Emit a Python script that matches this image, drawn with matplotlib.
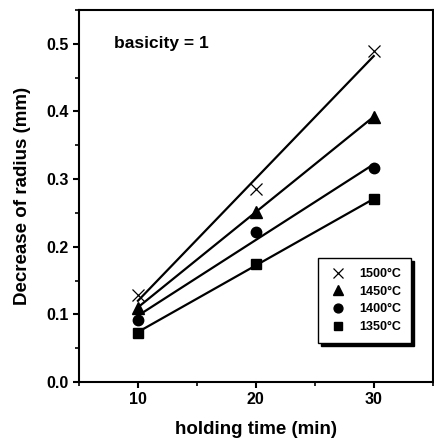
import numpy as np
import matplotlib
matplotlib.use("Agg")
import matplotlib.pyplot as plt
from matplotlib.ticker import MultipleLocator

plt.rcParams['font.family'] = ['Liberation Sans', 'DejaVu Sans']
plt.rcParams['font.weight'] = 'bold'

time = [10, 20, 30]
labels = ['1500°C', '1450°C', '1400°C', '1350°C']
values = {
    '1500°C': [0.128, 0.285, 0.490],
    '1450°C': [0.110, 0.252, 0.392],
    '1400°C': [0.092, 0.222, 0.316],
    '1350°C': [0.073, 0.174, 0.270],
}
markers = {'1500°C': 'x', '1450°C': '^', '1400°C': 'o', '1350°C': 's'}
msizes = {'1500°C': 9, '1450°C': 8, '1400°C': 7.5, '1350°C': 7}

fig = plt.figure(figsize=(4.34, 4.38), dpi=100)
ax = fig.add_axes([0.182, 0.128, 0.815, 0.849])

x = np.array(time)
for lab in labels:
    y = np.array(values[lab])
    m, b = np.polyfit(x, y, 1)
    ax.plot(x, m * x + b, color='black', lw=1.6, zorder=2)
    ax.plot(x, y, linestyle='none', marker=markers[lab], ms=msizes[lab],
            color='black', mew=0.9 if lab == '1500°C' else 1, label=lab, zorder=3)

ax.set_xlim(5, 35)
ax.set_ylim(0, 0.55)
ax.xaxis.set_major_locator(MultipleLocator(10))
ax.xaxis.set_minor_locator(MultipleLocator(5))
ax.yaxis.set_major_locator(MultipleLocator(0.1))
ax.yaxis.set_minor_locator(MultipleLocator(0.05))
ax.yaxis.set_major_formatter(matplotlib.ticker.FormatStrFormatter('%.1f'))
ax.xaxis.set_major_formatter(matplotlib.ticker.FormatStrFormatter('%d'))
ax.tick_params(which='major', direction='out', length=4.5, width=1.5, labelsize=11.5, pad=3)
ax.tick_params(which='minor', direction='out', length=3, width=1.2)
for s in ax.spines.values():
    s.set_linewidth(1.5)

ax.set_xlabel('holding time (min)', fontsize=13.5, fontweight='bold', labelpad=10)
ax.set_ylabel('Decrease of radius (mm)', fontsize=13.5, fontweight='bold', labelpad=11)
ax.text(8.0, 0.5, 'basicity = 1', fontsize=12.5, fontweight='bold', va='center', ha='left')

leg = ax.legend(loc='lower right', bbox_to_anchor=(0.94, 0.105), frameon=True,
                fancybox=False, edgecolor='black', fontsize=9,
                shadow={'color': 'black', 'alpha': 1}, borderpad=0.8,
                labelspacing=0.45, handletextpad=1.0, handlelength=1.5,
                markerscale=0.85, borderaxespad=0)
leg.get_frame().set_linewidth(1.0)

fig.savefig('out.png', dpi=100)
